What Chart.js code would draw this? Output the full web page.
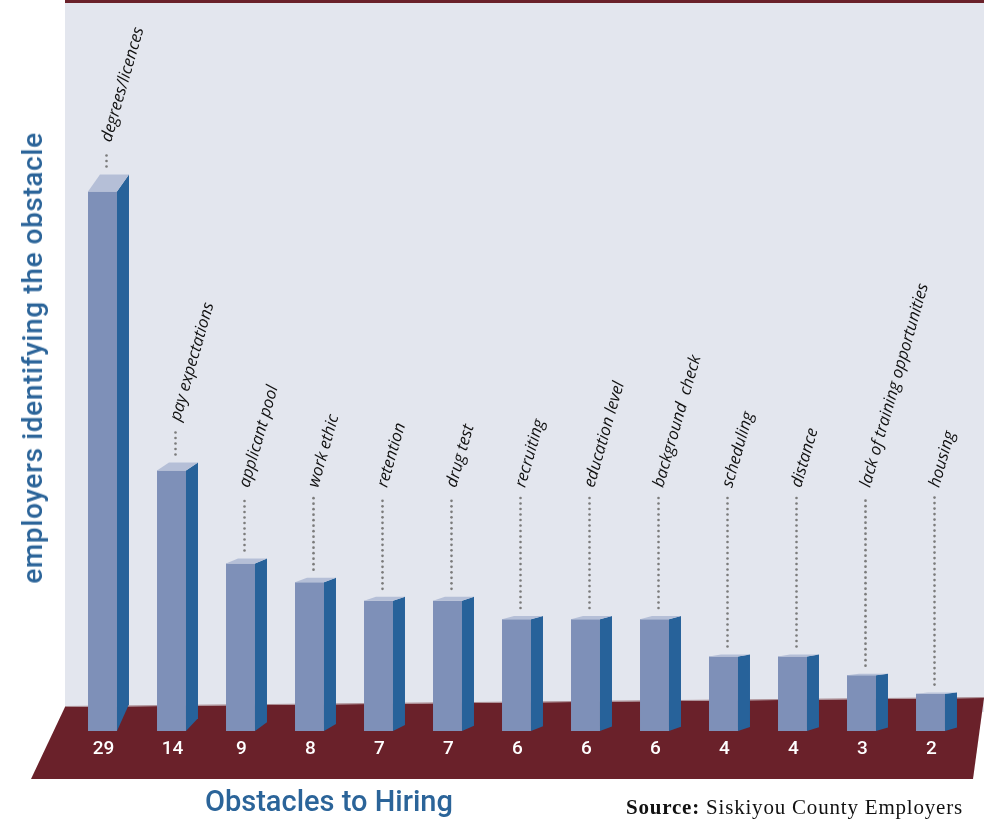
<!DOCTYPE html>
<html>
<head>
<meta charset="utf-8">
<script src="https://cdn.jsdelivr.net/npm/chart.js@4.4.1/dist/chart.umd.min.js"></script>
<style>
  html, body { margin: 0; padding: 0; background: #ffffff; }
  #wrap { position: relative; width: 984px; height: 819px; overflow: hidden; }
  #myChart { position: absolute; left: 0; top: 0; }
  .ytitle {
    position: absolute; left: 33px; top: 358px;
    transform: translate(-50%, -50%) rotate(-90deg);
    font-family: Roboto, sans-serif; font-weight: 500; font-size: 28px;
    letter-spacing: 0.6px;
    line-height: 1; color: #2b6499; white-space: nowrap;
  }
  .xtitle {
    position: absolute; left: 205px; top: 787px;
    font-family: Roboto, sans-serif; font-weight: 500; font-size: 29px;
    line-height: 1; color: #2b6499; white-space: nowrap;
  }
  .source {
    position: absolute; left: 626px; top: 797px;
    font-family: "Liberation Serif", serif; font-size: 21px;
    letter-spacing: 0.8px;
    line-height: 1; color: #111111; white-space: nowrap;
  }
</style>
</head>
<body>
<div id="wrap">
  <canvas id="myChart" width="984" height="819"></canvas>
  <div class="ytitle">employers identifying the obstacle</div>
  <div class="xtitle">Obstacles to Hiring</div>
  <div class="source"><b>Source:</b> Siskiyou County Employers</div>
</div>
<script>
// obstacles named by employers, and how many employers named each one
var categories = ['degrees/licences', 'pay expectations', 'applicant pool', 'work ethic',
  'retention', 'drug test', 'recruiting', 'education level', 'background  check',
  'scheduling', 'distance', 'lack of training opportunities', 'housing'];
var employerCounts = [29, 14, 9, 8, 7, 7, 6, 6, 6, 4, 4, 3, 2];

var WALL = '#e3e6ee';
var FLOOR = '#6a212a';
var FRONT = '#7e90b8';
var SIDE = '#27629a';
var TOP = '#b5bfd7';

// wall, floor, fake 3d faces, leader dots and labels
var box3d = {
  id: 'box3d',
  beforeDatasetsDraw: function (chart) {
    var c = chart.ctx;
    c.save();
    c.fillStyle = WALL;
    c.fillRect(65, 0, 919, 712);
    c.fillStyle = FLOOR;
    c.fillRect(65, 0, 919, 3);
    // floor
    c.beginPath();
    c.moveTo(65, 707);
    c.lineTo(984, 698);
    c.lineTo(973, 779);
    c.lineTo(31, 779);
    c.closePath();
    c.fill();
    c.strokeStyle = '#a98a90';
    c.lineWidth = 1.2;
    c.beginPath();
    c.moveTo(65, 706.5);
    c.lineTo(984, 697.5);
    c.stroke();
    c.restore();
  },
  afterDatasetsDraw: function (chart) {
    var c = chart.ctx;
    var meta = chart.getDatasetMeta(0);
    var depth = 12;
    c.save();
    meta.data.forEach(function (bar, i) {
      var L = bar.x - bar.width / 2;
      var R = bar.x + bar.width / 2;
      var top = bar.y;
      var bottom = bar.base;
      var dyTop = -Math.max(1.2, 0.032 * (723 - top));
      var rise = 2 + 1300 / (bar.x - 50);

      c.fillStyle = SIDE;
      c.beginPath();
      c.moveTo(R, top);
      c.lineTo(R + depth, top + dyTop);
      c.lineTo(R + depth, bottom - rise);
      c.lineTo(R, bottom);
      c.closePath();
      c.fill();

      c.fillStyle = TOP;
      c.beginPath();
      c.moveTo(L, top);
      c.lineTo(R, top);
      c.lineTo(R + depth, top + dyTop);
      c.lineTo(L + depth, top + dyTop);
      c.closePath();
      c.fill();

      // dotted leader up to the label
      var dotX = bar.x + 4;
      var labelY = Math.min(487, top - 50);
      c.fillStyle = '#7b7b7b';
      for (var y = top + dyTop - 8; y >= labelY + 10; y -= 5.5) {
        c.beginPath();
        c.arc(dotX, y, 1.3, 0, Math.PI * 2);
        c.fill();
      }

      c.save();
      c.translate(dotX, labelY);
      c.rotate(-74 * Math.PI / 180);
      c.fillStyle = '#111111';
      c.font = 'italic 500 16.5px "Open Sans"';
      c.textAlign = 'left';
      c.textBaseline = 'middle';
      c.fillText(categories[i], 0, 0);
      c.restore();

      // count on the floor
      c.fillStyle = '#ffffff';
      c.font = '500 19px Roboto';
      c.textAlign = 'center';
      c.textBaseline = 'middle';
      c.fillText(String(employerCounts[i]), bar.x + 1, 749);
    });
    c.restore();
  }
};

var ctx = document.getElementById('myChart').getContext('2d');
var chart = new Chart(ctx, {
  type: 'bar',
  data: {
    labels: categories,
    datasets: [{
      data: employerCounts,
      backgroundColor: FRONT,
      borderWidth: 0,
      barPercentage: 0.42,
      categoryPercentage: 1
    }]
  },
  options: {
    responsive: false,
    animation: false,
    devicePixelRatio: 1,
    layout: { padding: { top: 24, bottom: 88, left: 68, right: 19 } },
    plugins: {
      legend: { display: false },
      tooltip: { enabled: false }
    },
    scales: {
      x: { display: false },
      y: { display: false, min: 0, max: 38 }
    }
  },
  plugins: [box3d]
});
</script>
</body>
</html>
